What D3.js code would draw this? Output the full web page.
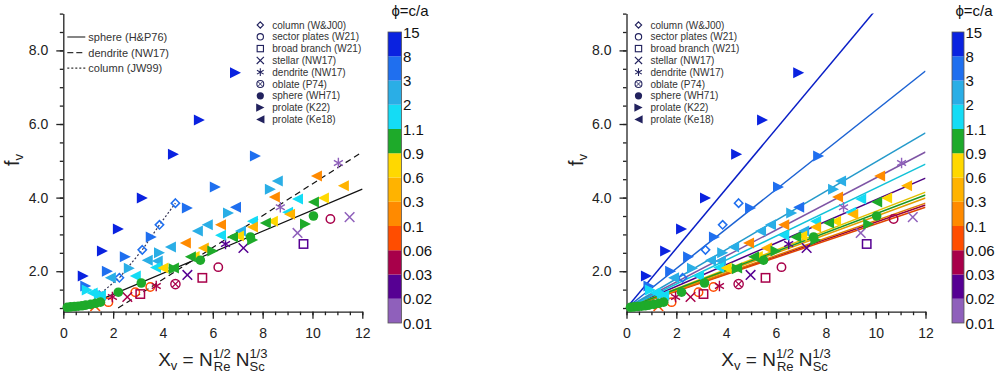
<!DOCTYPE html>
<html>
<head>
<meta charset="utf-8">
<script src="https://cdn.jsdelivr.net/npm/d3@7"></script>
<style>
body { margin: 0; background: #fff; }
svg { font-family: "Liberation Sans", Arial, sans-serif; }
</style>
</head>
<body>
<svg id="fig" width="1000" height="374"></svg>
<script>
// phi = c/a colour bins, from bottom to top of the colour bar
const phiEdges = [0.01, 0.02, 0.03, 0.06, 0.1, 0.3, 0.6, 0.9, 1.1, 2, 3, 8, 15];
const phiColors = ['#8f60bb', '#560093', '#a8004a', '#ff4d00', '#ff8a00', '#ffb300',
                   '#ffd800', '#1eaa2a', '#14dcf5', '#2aaee6', '#1f6fef', '#0a22e0'];

// points: [X_v, f_v, phi]
const prolateK22 = [
  [0.80,1.87,10],[1.57,2.55,10],[2.21,3.15,10],[3.17,3.99,10],[4.42,5.18,10],[5.46,6.11,10],[6.91,7.39,10],
  [0.90,1.60,5],[1.77,2.00,5],[2.49,2.39,5],[3.53,2.93,5],[4.98,3.72,5],[6.10,4.29,5],[7.71,5.13,5],
  [2.65,2.08,2.5],[3.86,2.50,2.5],[6.63,3.58,2.5],[8.31,4.23,2.5],
  [0.96,1.49,1.5],[1.45,1.38,1.5],
  [4.45,2.07,1],[6.00,2.55,1],[7.60,2.85,1],[9.72,3.28,1]
];
const prolateKe18 = [
  [6.91,3.74,5],
  [1.89,1.82,2.5],[3.37,2.30,2.5],[3.77,2.28,2.5],[4.30,2.66,2.5],[5.38,3.09,2.5],[5.78,3.26,2.5],[7.11,3.09,2.5],[8.59,4.45,2.5],
  [1.16,1.41,1.5],[1.49,1.35,1.5],[2.89,1.87,1.5],[3.70,2.10,1.5],[6.31,2.98,1.5],[7.59,3.36,1.5],[9.00,3.60,1.5],[9.40,3.96,1.5],
  [4.00,2.09,0.75],[5.25,2.40,0.75],[7.03,2.96,0.75],[8.39,3.36,0.75],[10.44,3.99,0.75],
  [5.62,2.63,0.45],[7.59,3.20,0.45],[9.08,3.55,0.45],[11.24,4.32,0.45],
  [4.90,2.77,0.2],[6.31,3.26,0.2],[8.47,4.02,0.2],[10.16,4.59,0.2],
  [4.42,2.09,1],[5.10,2.39,1],[6.79,2.93,1],[8.11,3.31,1],[10.04,3.88,1]
];
const sphereWH71 = [
  [0.16,1.02,1],[0.30,1.03,1],[0.45,1.04,1],[0.60,1.05,1],[0.75,1.06,1],[0.90,1.08,1],[1.10,1.10,1],
  [1.30,1.13,1],[1.49,1.16,1],[2.21,1.43,1],[3.13,1.68,1],[5.50,2.30,1],[7.51,2.93,1],[10.04,3.50,1]
];
const columnWJ00 = [[1.44,1.35,5],[2.25,1.82,5],[3.17,2.58,5],[3.86,3.26,5],[4.50,3.85,5]];
const sectorW21 = [[1.81,1.16,0.08],[2.89,1.43,0.08],[3.49,1.57,0.08],[6.22,2.11,0.045],[10.72,3.42,0.045]];
const broadW21 = [[3.09,1.38,0.045],[5.58,1.82,0.045],[9.64,2.74,0.025]];
const stellarNW17 = [[1.28,1.05,0.08],[2.57,1.30,0.045],[4.98,1.90,0.025],[7.23,2.63,0.025],[9.40,3.04,0.015],[11.49,3.47,0.015]];
const dendriteNW17 = [[1.97,1.30,0.045],[3.73,1.60,0.045],[6.51,2.74,0.025],[8.71,3.74,0.015],[11.04,4.94,0.015]];
const oblateP74 = [[4.50,1.65,0.045]];

// reference curves in the left panel
const sphereHP76 = [[0,1],[0.5,1.025],[1,1.1],[1.4,1.2],[12,4.23]];
const dendriteNW17Fit = [[2.2,1.0],[12,5.24]];
const columnJW99 = [[1.27,1.27],[2.25,1.82],[3.17,2.58],[3.86,3.26],[4.50,3.85]];

// right panel: fitted line per colour bin, f_v reached at X_v = 12 (bottom bin first)
const fitEnd = [5.24, 4.53, 3.80, 3.74, 3.85, 3.99, 4.15, 4.07, 4.91, 5.76, 7.44, 10.72];

const legendItems = ['column (W&J00)','sector plates (W21)','broad branch (W21)','stellar (NW17)',
  'dendrite (NW17)','oblate (P74)','sphere (WH71)','prolate (K22)','prolate (Ke18)'];
const legendShapes = ['diamond','circle','square','cross','star','otimes','dot','right','left'];
const xTicks = [0, 2, 4, 6, 8, 10, 12];
const yTicks = [2, 4, 6, 8];

const svg = d3.select('#fig');
const colorOf = d3.scaleThreshold().domain(phiEdges.slice(1, -1)).range(phiColors);

function marker(g, shape, x, y, color) {
  const s = 5.5;
  if (shape === 'right') {
    g.append('path').attr('d', `M${x-s},${y-s}L${x+s},${y}L${x-s},${y+s}Z`).attr('fill', color);
  } else if (shape === 'left') {
    g.append('path').attr('d', `M${x+s},${y-s}L${x-s},${y}L${x+s},${y+s}Z`).attr('fill', color);
  } else if (shape === 'dot') {
    g.append('circle').attr('cx', x).attr('cy', y).attr('r', 4.8).attr('fill', color);
  } else if (shape === 'circle') {
    g.append('circle').attr('cx', x).attr('cy', y).attr('r', 4.2).attr('fill', 'none').attr('stroke', color).attr('stroke-width', 1.5);
  } else if (shape === 'square') {
    g.append('rect').attr('x', x-4.2).attr('y', y-4.2).attr('width', 8.4).attr('height', 8.4).attr('fill', 'none').attr('stroke', color).attr('stroke-width', 1.5);
  } else if (shape === 'diamond') {
    g.append('path').attr('d', `M${x},${y-4.2}L${x+4.2},${y}L${x},${y+4.2}L${x-4.2},${y}Z`).attr('fill', 'none').attr('stroke', color).attr('stroke-width', 1.5);
  } else if (shape === 'cross') {
    g.append('path').attr('d', `M${x-4.8},${y-4.8}L${x+4.8},${y+4.8}M${x-4.8},${y+4.8}L${x+4.8},${y-4.8}`).attr('stroke', color).attr('stroke-width', 1.5);
  } else if (shape === 'star') {
    g.append('path').attr('d', `M${x},${y-5.2}L${x},${y+5.2}M${x-4.5},${y-2.6}L${x+4.5},${y+2.6}M${x-4.5},${y+2.6}L${x+4.5},${y-2.6}`).attr('stroke', color).attr('stroke-width', 1.4);
  } else if (shape === 'otimes') {
    g.append('circle').attr('cx', x).attr('cy', y).attr('r', 4.6).attr('fill', 'none').attr('stroke', color).attr('stroke-width', 1.4);
    g.append('path').attr('d', `M${x-3.2},${y-3.2}L${x+3.2},${y+3.2}M${x-3.2},${y+3.2}L${x+3.2},${y-3.2}`).attr('stroke', color).attr('stroke-width', 1.2);
  }
}

function panel(x0, barX, withFits) {
  const x = d3.scaleLinear().domain([0, 12]).range([x0, x0 + 299]);
  const y = d3.scaleLinear().domain([0.9, 9]).range([311.7, 13.6]);
  const g = svg.append('g');

  // axes: major + minor ticks, left and bottom only
  g.append('g').attr('transform', 'translate(0,311.7)')
    .call(d3.axisBottom(x).tickValues(d3.range(0, 12.01, 0.5)).tickSize(3.5).tickFormat(''))
    .call(a => a.select('.domain').remove());
  g.append('g').attr('transform', 'translate(0,311.7)')
    .call(d3.axisBottom(x).tickValues(xTicks).tickSize(7).tickPadding(9).tickSizeOuter(0))
    .call(a => a.selectAll('text').attr('font-size', 14).attr('fill', '#222'));
  g.append('g').attr('transform', `translate(${x0},0)`)
    .call(d3.axisLeft(y).tickValues(d3.range(1, 9.01, 0.5)).tickSize(3.5).tickFormat(''))
    .call(a => a.select('.domain').remove());
  g.append('g').attr('transform', `translate(${x0},0)`)
    .call(d3.axisLeft(y).tickValues(yTicks).tickSize(7).tickPadding(8).tickSizeOuter(0).tickFormat(d3.format('.1f')))
    .call(a => a.selectAll('text').attr('font-size', 14).attr('fill', '#222'));
  g.selectAll('.domain, .tick line').attr('stroke', '#222').attr('stroke-width', 1.3);

  // axis titles
  const xt = g.append('text').attr('x', x(6)).attr('y', 366).attr('text-anchor', 'middle').attr('font-size', 19).attr('fill', '#222');
  xt.append('tspan').text('X');
  xt.append('tspan').attr('font-size', 13).attr('dy', 4).text('v');
  xt.append('tspan').attr('dy', -4).text(' = N');
  xt.append('tspan').attr('font-size', 13).attr('dy', -8).text('1/2');
  xt.append('tspan').attr('font-size', 13).attr('dx', -17).attr('dy', 13).text('Re');
  xt.append('tspan').attr('dy', -5).text(' N');
  xt.append('tspan').attr('font-size', 13).attr('dy', -8).text('1/3');
  xt.append('tspan').attr('font-size', 13).attr('dx', -18).attr('dy', 13).text('Sc');
  const yt = g.append('text').attr('transform', `translate(${x0 - 44},160) rotate(-90)`)
    .attr('text-anchor', 'middle').attr('font-size', 20).attr('fill', '#222');
  yt.append('tspan').text('f');
  yt.append('tspan').attr('font-size', 13).attr('dy', 4).text('v');

  const line = d3.line().x(d => x(d[0])).y(d => y(d[1]));
  const clipId = 'clip' + x0;
  g.append('clipPath').attr('id', clipId).append('rect')
    .attr('x', x0).attr('y', 13.6).attr('width', 299).attr('height', 298);

  if (withFits) {
    g.append('g').attr('clip-path', `url(#${clipId})`).selectAll('path')
      .data(fitEnd).join('path')
      .attr('d', d => line([[0, 1], [12, d]]))
      .attr('fill', 'none').attr('stroke', (d, i) => d3.color(phiColors[i]).darker(0.35)).attr('stroke-width', 1.5);
  } else {
    g.append('path').attr('d', line(sphereHP76)).attr('fill', 'none').attr('stroke', '#111').attr('stroke-width', 1.2);
    g.append('path').attr('d', line(dendriteNW17Fit)).attr('fill', 'none').attr('stroke', '#111').attr('stroke-width', 1.2).attr('stroke-dasharray', '6,4');
    g.append('path').attr('d', line(columnJW99)).attr('fill', 'none').attr('stroke', '#335').attr('stroke-width', 1.2).attr('stroke-dasharray', '2,2');
  }

  // data points
  const sets = [[columnWJ00,'diamond'],[sectorW21,'circle'],[broadW21,'square'],[stellarNW17,'cross'],
    [dendriteNW17,'star'],[oblateP74,'otimes'],[prolateKe18,'left'],[prolateK22,'right'],[sphereWH71,'dot']];
  const pts = g.append('g');
  sets.forEach(([arr, shape]) => arr.forEach(d => marker(pts, shape, x(d[0]), y(d[1]), colorOf(d[2]))));

  // marker legend
  const lx = x0 + (withFits ? 12 : 197);
  legendItems.forEach((t, i) => {
    const ly = 25 + i * 11.8;
    const lg = g.append('g').attr('transform', `translate(${lx},${ly}) scale(0.75) translate(${-lx},${-ly})`);
    marker(lg, legendShapes[i], lx, ly, '#22225e');
    g.append('text').attr('x', lx + 12).attr('y', ly + 3.6).attr('font-size', 10).attr('fill', '#333').text(t);
  });

  if (!withFits) {
    const names = ['sphere (H&P76)', 'dendrite (NW17)', 'column (JW99)'];
    const dash = [null, '6,3', '2,2'];
    names.forEach((t, i) => {
      const ly = 37 + i * 15.6;
      g.append('line').attr('x1', x0 + 4).attr('x2', x0 + 22).attr('y1', ly).attr('y2', ly)
        .attr('stroke', '#333').attr('stroke-width', 1.2).attr('stroke-dasharray', dash[i]);
      g.append('text').attr('x', x0 + 25).attr('y', ly + 4).attr('font-size', 11).attr('fill', '#333').text(t);
    });
  }

  // colour bar
  const cb = d3.scalePoint().domain(phiEdges).range([323, 32]);
  const bw = withFits ? 12 : 13.5;
  const bar = svg.append('g');
  bar.selectAll('rect').data(phiColors).join('rect')
    .attr('x', barX).attr('y', (d, i) => cb(phiEdges[i + 1]))
    .attr('width', bw).attr('height', (d, i) => cb(phiEdges[i]) - cb(phiEdges[i + 1]))
    .attr('fill', d => d);
  bar.append('rect').attr('x', barX).attr('y', 32).attr('width', bw).attr('height', 291)
    .attr('fill', 'none').attr('stroke', '#555').attr('stroke-width', 0.8);
  bar.selectAll('text.lab').data(phiEdges).join('text').attr('class', 'lab')
    .attr('x', barX + bw + 1.5).attr('y', d => cb(d) + 5.5)
    .attr('font-size', 15).attr('fill', '#111').text(d => d);
  bar.append('text').attr('x', barX + 22).attr('y', 16).attr('text-anchor', 'middle')
    .attr('font-size', 15).attr('fill', '#111').text('\u03d5=c/a');
}

panel(63.3, 388, false);
panel(626.5, 952, true);
</script>
</body>
</html>
